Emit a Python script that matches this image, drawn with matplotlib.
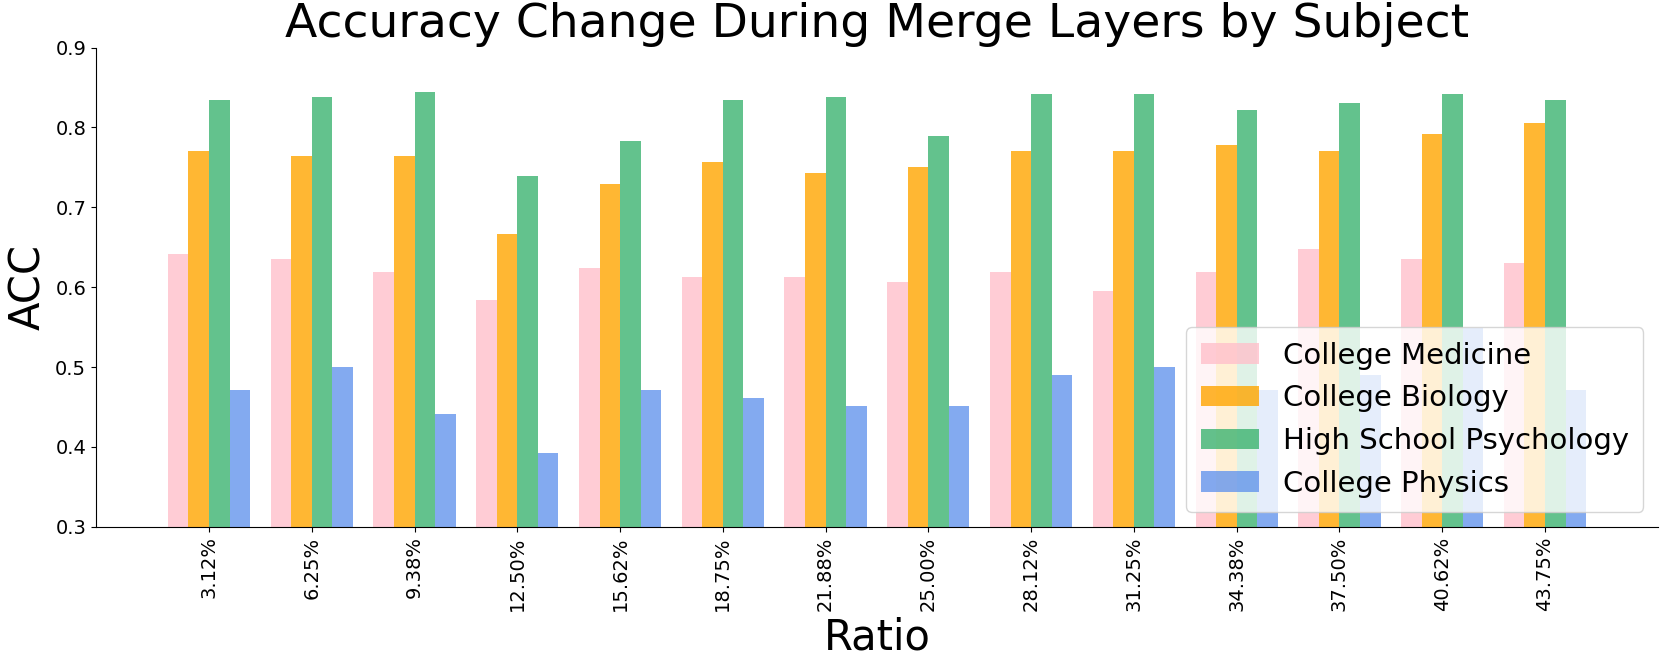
import numpy as np
import matplotlib
matplotlib.use("Agg")
import matplotlib.pyplot as plt

# proporção de camadas fundidas
ratios = ["3.12%", "6.25%", "9.38%", "12.50%", "15.62%", "18.75%", "21.88%",
          "25.00%", "28.12%", "31.25%", "34.38%", "37.50%", "40.62%", "43.75%"]

college_medicine = [0.6416, 0.6358, 0.6185, 0.5838, 0.6243, 0.6127, 0.6127,
                    0.6069, 0.6185, 0.5954, 0.6185, 0.6474, 0.6358, 0.6301]
college_biology = [0.7708, 0.7639, 0.7639, 0.6667, 0.7292, 0.7569, 0.7431,
                   0.7500, 0.7708, 0.7708, 0.7778, 0.7708, 0.7917, 0.8056]
hs_psychology = [0.8349, 0.8385, 0.8440, 0.7394, 0.7835, 0.8349, 0.8385,
                 0.7890, 0.8422, 0.8422, 0.8220, 0.8312, 0.8422, 0.8349]
college_physics = [0.4706, 0.5000, 0.4412, 0.3922, 0.4706, 0.4608, 0.4510,
                   0.4510, 0.4902, 0.5000, 0.4706, 0.4902, 0.5490, 0.4706]

series = [
    ("College Medicine", college_medicine, "pink"),
    ("College Biology", college_biology, "orange"),
    ("High School Psychology", hs_psychology, "mediumseagreen"),
    ("College Physics", college_physics, "cornflowerblue"),
]

fig = plt.figure(figsize=(16.6, 6.57), dpi=100)
ax = fig.add_axes([0.0578, 0.1983, 0.941, 0.7292])

x = np.arange(len(ratios))
w = 0.2
for i, (name, vals, col) in enumerate(series):
    ax.bar(x + (i - 1.5) * w, vals, w, label=name, color=col, alpha=0.8)

ax.set_xticks(x)
ax.set_xticklabels(ratios, rotation=90, fontsize=14)
ax.tick_params(axis="y", labelsize=14)
ax.set_ylim(0.3, 0.9)
ax.set_xlim(-1.1, 14.1)
ax.set_xlabel("Ratio", fontsize=30)
ax.set_ylabel("ACC", fontsize=30)
ax.set_title("Accuracy Change During Merge Layers by Subject", fontsize=34, pad=8)
ax.spines["top"].set_visible(False)
ax.spines["right"].set_visible(False)
ax.legend(loc="lower right", fontsize=21, borderpad=0.5)

plt.savefig("out.png", dpi=100)
plt.close()
